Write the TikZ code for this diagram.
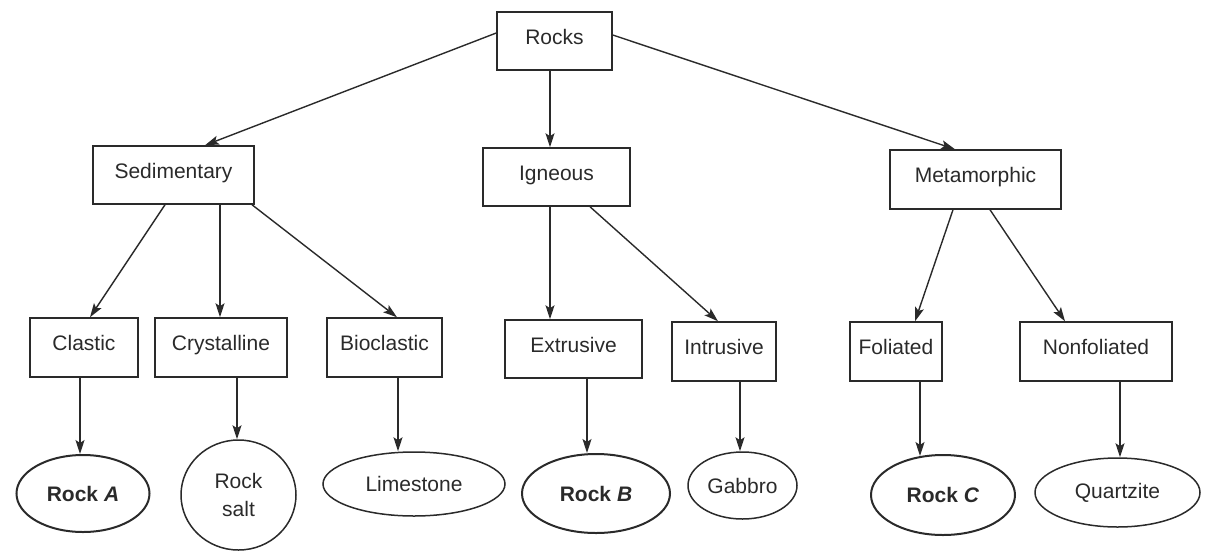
\documentclass[tikz,border=0pt]{standalone}
\usepackage{fontspec}
\setmainfont{Liberation Sans}
\usetikzlibrary{shapes.geometric,arrows.meta,calc}
\definecolor{ink}{HTML}{2A2A2A}
\tikzset{
  box/.style={draw=ink, line width=1.5pt, rectangle, inner sep=0pt, text=ink,
    font=\fontsize{21}{25}\selectfont, text height=15pt, text depth=9pt},
  oval/.style={draw=ink, line width=1.5pt, ellipse, inner sep=0pt, text=ink,
    font=\fontsize{21}{28}\selectfont, align=center},
  boldoval/.style={oval, line width=2pt, font=\fontsize{21}{25}\selectfont\bfseries},
  arr/.style={draw=ink, line width=1.4pt, -{Stealth[length=14pt,width=9pt,inset=3pt]}}
}
\begin{document}
\begin{tikzpicture}[x=1pt,y=-1pt]
\useasboundingbox (0,0) rectangle (1211,550);
% level 1
\node[box, minimum width=115pt, minimum height=58pt] (rocks) at (554.5,41) {Rocks};
% level 2
\node[box, minimum width=161pt, minimum height=58pt] (sed) at (173.5,175) {Sedimentary};
\node[box, minimum width=147pt, minimum height=58pt] (ign) at (556.5,177) {Igneous};
\node[box, minimum width=171pt, minimum height=59pt] (met) at (975.5,179.5) {Metamorphic};
% level 3
\node[box, minimum width=108pt, minimum height=59pt] (cla) at (84,347.5) {Clastic};
\node[box, minimum width=132pt, minimum height=59pt] (cry) at (221,347.5) {Crystalline};
\node[box, minimum width=115pt, minimum height=59pt] (bio) at (384.5,347.5) {Bioclastic};
\node[box, minimum width=137pt, minimum height=58pt] (ext) at (573.5,349) {Extrusive};
\node[box, minimum width=104pt, minimum height=59pt] (int) at (724,351.5) {Intrusive};
\node[box, minimum width=92pt, minimum height=59pt] (fol) at (896,351.5) {Foliated};
\node[box, minimum width=152pt, minimum height=59pt] (non) at (1096,351.5) {Nonfoliated};
% level 4
\node[boldoval, minimum width=133pt, minimum height=77pt] (ra) at (83,493.5) {Rock \textit{A}};
\node[oval, minimum width=115pt, minimum height=110pt] (rs) at (238.5,495) {Rock\\salt};
\node[oval, minimum width=182pt, minimum height=64pt] (lim) at (414,484) {Limestone};
\node[boldoval, minimum width=148pt, minimum height=79pt] (rb) at (596,493.5) {Rock \textit{B}};
\node[oval, minimum width=109pt, minimum height=67pt] (gab) at (742.5,485.5) {Gabbro};
\node[boldoval, minimum width=144pt, minimum height=80pt] (rc) at (943,495) {Rock \textit{C}};
\node[oval, minimum width=165pt, minimum height=69pt] (qua) at (1117.5,492.5) {Quartzite};
% connectors level 1 -> 2
\draw[arr] ([yshift=8pt]rocks.west) -- ([xshift=31.5pt]sed.north);
\draw[arr] ([xshift=-4.5pt]rocks.south) -- ([xshift=-6.5pt]ign.north);
\draw[arr] ([yshift=6pt]rocks.east) -- ([xshift=-20.5pt]met.north);
% level 2 -> 3
\draw[arr] ([xshift=-8.5pt]sed.south) -- ([xshift=6pt]cla.north);
\draw[arr] ([xshift=46.5pt]sed.south) -- ([xshift=-1pt]cry.north);
\draw[arr] ([xshift=78.5pt]sed.south) -- ([xshift=12.5pt]bio.north);
\draw[arr] ([xshift=-6.5pt]ign.south) -- ([xshift=-23.5pt]ext.north);
\draw[arr] ([xshift=33.5pt]ign.south) -- ([xshift=-6pt]int.north);
\draw[arr] ([xshift=-22.5pt]met.south) -- ([xshift=19pt]fol.north);
\draw[arr] ([xshift=14.5pt]met.south) -- ([xshift=-31pt]non.north);
% level 3 -> 4
\draw[arr] ([xshift=-4pt]cla.south) -- ([xshift=-3pt]ra.north);
\draw[arr] ([xshift=16pt]cry.south) -- ([xshift=-1.5pt]rs.north);
\draw[arr] ([xshift=13.5pt]bio.south) -- ([xshift=-16pt]lim.north);
\draw[arr] ([xshift=13.5pt]ext.south) -- ([xshift=-9pt]rb.north);
\draw[arr] ([xshift=16pt]int.south) -- ([xshift=-2.5pt]gab.north);
\draw[arr] ([xshift=24pt]fol.south) -- ([xshift=-23pt,yshift=-2pt]rc.north);
\draw[arr] ([xshift=24pt]non.south) -- ([xshift=2.5pt]qua.north);
\end{tikzpicture}
\end{document}
